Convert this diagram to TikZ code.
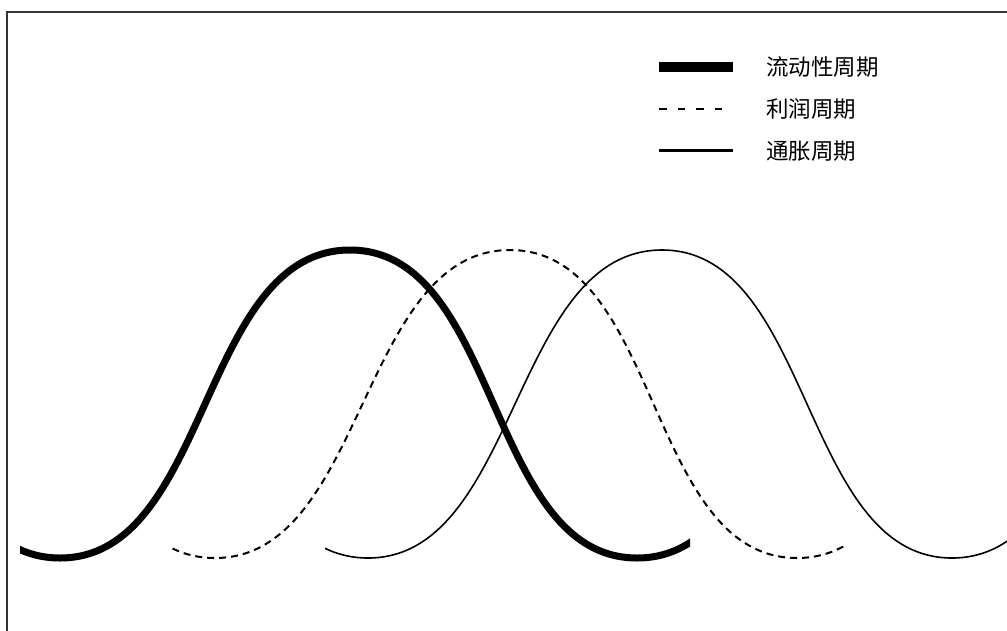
\documentclass[tikz,border=0pt]{standalone}
\usepackage{fontspec}
\newfontfamily\cjk{Noto Sans CJK SC}
\begin{document}
\begin{tikzpicture}[x=1pt,y=-1pt,
  frame/.style={line width=2.4pt, draw=black!80},
  liq/.style={line width=7pt, black},
  prof/.style={line width=2pt, black, dash pattern=on 7pt off 5pt},
  infl/.style={line width=1.6pt, black},
  legtext/.style={anchor=west, inner sep=0pt, font=\cjk\fontsize{22.5}{22.5}\selectfont}]
\useasboundingbox (0,0) rectangle (1007,630);
\draw[frame] (7,12) rectangle (1030,650);
% liquidity cycle
\begin{scope}
\clip (20,0) rectangle (690,630);
\draw[liq] (-230,250) .. controls (-80,250) and (-90,558) .. (60,558)
  .. controls (210,558) and (200,250) .. (350,250)
  .. controls (500,250) and (487,558) .. (637,558)
  .. controls (787,558) and (777,250) .. (927,250);
\end{scope}
% profit cycle
\begin{scope}
\clip (172,0) rectangle (845,630);
\draw[prof] (-80,250) .. controls (70,250) and (65,558) .. (215,558)
  .. controls (365,558) and (360,250) .. (510,250)
  .. controls (660,250) and (647,558) .. (797,558)
  .. controls (947,558) and (937,250) .. (1087,250);
\end{scope}
% inflation cycle
\begin{scope}
\clip (325,0) rectangle (1020,630);
\draw[infl] (72,250) .. controls (222,250) and (218,558) .. (368,558)
  .. controls (518,558) and (512,250) .. (662,250)
  .. controls (812,250) and (802,558) .. (952,558)
  .. controls (1102,558) and (1092,250) .. (1242,250);
\end{scope}
% legend
\coordinate (l1a) at (659,66.5); \coordinate (l1b) at (733,66.5);
\coordinate (l2a) at (659,109); \coordinate (l2b) at (726,109);
\coordinate (l3a) at (659,150); \coordinate (l3b) at (733,150);
\draw[line width=10pt] (l1a) -- (l1b);
\draw[line width=2.4pt, dash pattern=on 7.5pt off 11pt] (l2a) -- (l2b);
\draw[line width=3pt] (l3a) -- (l3b);
\node[legtext] (t1) at (766,67) {流动性周期};
\node[legtext] (t2) at (766,109) {利润周期};
\node[legtext] (t3) at (766,151) {通胀周期};
\end{tikzpicture}
\end{document}
